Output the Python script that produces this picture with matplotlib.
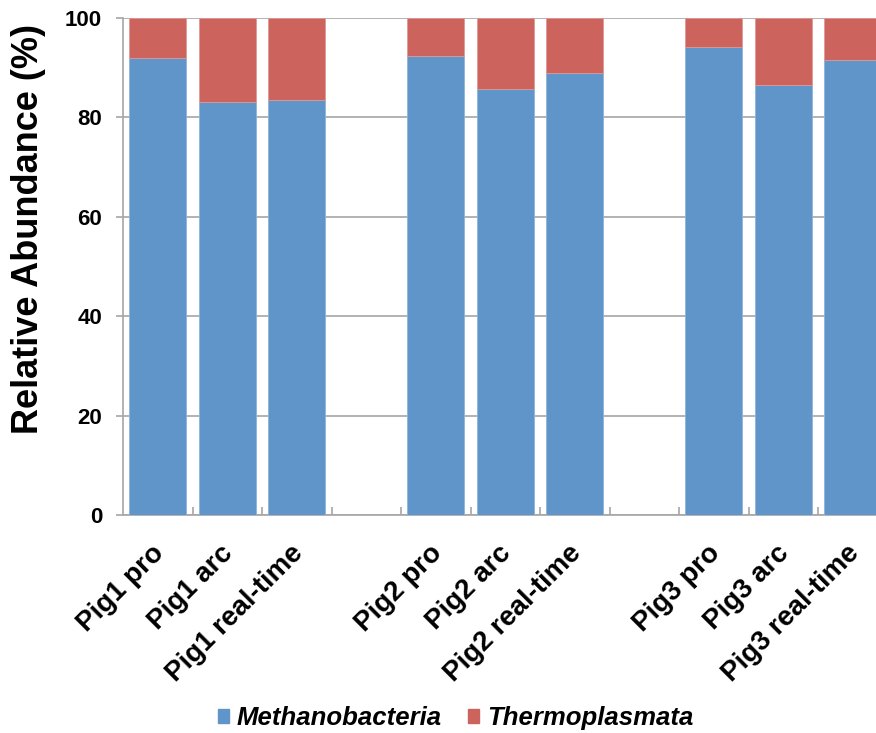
import matplotlib.pyplot as plt
import matplotlib.transforms as mtransforms
from matplotlib.patches import Patch
from matplotlib.ticker import FixedLocator

plt.rcParams['font.family'] = ['Liberation Sans', 'DejaVu Sans']
plt.rcParams['font.weight'] = 'bold'
plt.rcParams['axes.labelweight'] = 'bold'

# empty strings are spacer slots between the pigs
samples = ["Pig1 pro", "Pig1 arc", "Pig1 real-time", "",
           "Pig2 pro", "Pig2 arc", "Pig2 real-time", "",
           "Pig3 pro", "Pig3 arc", "Pig3 real-time"]
methanobacteria = [92.0, 83.2, 83.5, 0, 92.4, 85.7, 88.9, 0, 94.2, 86.6, 91.5]
thermoplasmata = [8.0, 16.8, 16.5, 0, 7.6, 14.3, 11.1, 0, 5.8, 13.4, 8.5]

blue = "#5F95C9"
red = "#CC645D"
grey = "#A6A6A6"

fig = plt.figure(figsize=(8.76, 7.33), dpi=100)
ax = fig.add_axes([0.1404, 0.2974, 0.873, 0.678])

x = list(range(len(samples)))
ax.bar(x, methanobacteria, width=0.82, color=blue, edgecolor="#8DB4DD", linewidth=0.6, zorder=3)
ax.bar(x, thermoplasmata, width=0.82, bottom=methanobacteria, color=red,
       edgecolor="#DE9894", linewidth=0.6, zorder=3)

ax.set_xlim(-0.5, len(samples) - 0.5)
ax.set_ylim(0, 100)
ax.set_yticks(range(0, 101, 20))
ax.yaxis.grid(True, color=grey, linewidth=1.2, zorder=0)

ax.set_xticks(x)
ax.set_xticklabels(samples, rotation=45, ha="right", rotation_mode="anchor", fontsize=20)
ax.tick_params(axis="x", length=0, pad=18)
# nudge the slanted labels a little to the left
shift = mtransforms.ScaledTranslation(-7 / 100, 0, fig.dpi_scale_trans)
for lbl in ax.get_xticklabels():
    lbl.set_transform(lbl.get_transform() + shift)
ax.xaxis.set_minor_locator(FixedLocator([i + 0.5 for i in x[:-1]]))
ax.tick_params(axis="x", which="minor", direction="in", length=6, color=grey, width=1.2)
ax.tick_params(axis="y", direction="out", length=5, color=grey, width=1.2, labelsize=16, pad=10)

for side in ["top", "right"]:
    ax.spines[side].set_visible(False)
for side in ["left", "bottom"]:
    ax.spines[side].set_color(grey)
    ax.spines[side].set_linewidth(1.2)

ax.set_ylabel("Relative Abundance (%)", fontsize=26)
ax.yaxis.set_label_coords(-0.101, 0.575)

handles = [Patch(color=blue, label="Methanobacteria"), Patch(color=red, label="Thermoplasmata")]
fig.legend(handles=handles, loc="center", bbox_to_anchor=(0.52, 0.02), ncol=2, frameon=False,
           prop={"size": 18.5, "style": "italic", "weight": "bold"},
           handlelength=0.45, handleheight=0.45, handletextpad=0.3, columnspacing=1.0)

fig.savefig("out.png", dpi=100)
